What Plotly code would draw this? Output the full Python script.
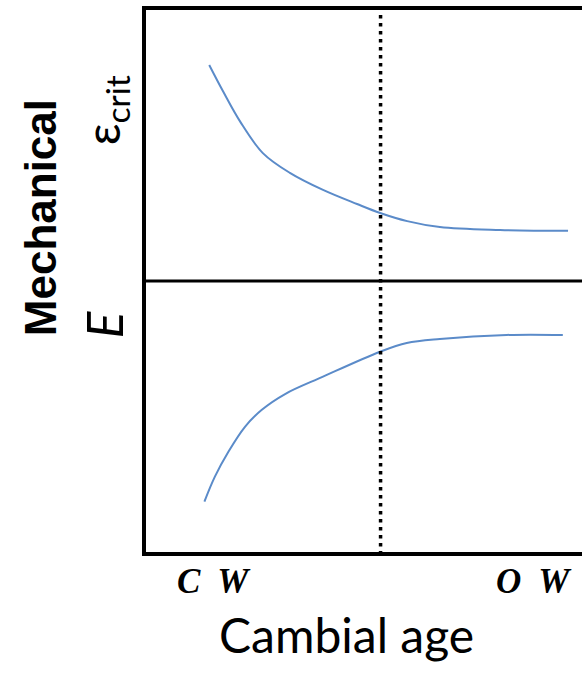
import plotly.graph_objects as go

# Cambial age positions (0 = inner, 100 = outer) and schematic property values
crit_x = [14.5, 17.7, 21.6, 26.8, 33.0, 40.6, 48.4, 53.7, 59.9, 67.4, 81.2, 96.8]
crit_y = [79.7, 69.9, 58.8, 47.2, 39.9, 33.6, 28.4, 25.1, 22.1, 19.9, 18.8, 18.5]

e_x = [13.4, 15.8, 18.9, 22.7, 26.5, 31.9, 40.6, 53.7, 59.8, 67.4, 82.7, 95.6]
e_y = [-81.4, -72.2, -63.0, -53.8, -47.6, -41.7, -35.3, -26.1, -22.9, -21.4, -19.9, -19.9]

transition_x = 53.8
x_labels = ["<b><i>C  W</i></b>", "<b><i>O  W</i></b>"]
x_label_pos = [0.157, 0.89]

line_color = "#5B8BC9"

fig = go.Figure()
fig.add_trace(go.Scatter(x=crit_x, y=crit_y, mode="lines",
                         line=dict(color=line_color, width=2, shape="spline", smoothing=1.0),
                         hoverinfo="skip"))
fig.add_trace(go.Scatter(x=e_x, y=e_y, mode="lines",
                         line=dict(color=line_color, width=2, shape="spline", smoothing=1.0),
                         hoverinfo="skip"))

# middle separator and dotted transition line
fig.add_shape(type="line", xref="paper", yref="y", x0=0, x1=1, y0=0, y1=0,
              line=dict(color="black", width=3))
fig.add_shape(type="line", xref="x", yref="y", x0=transition_x, x1=transition_x, y0=98.2, y1=-100,
              line=dict(color="black", width=3.5, dash="3.5px,4.5px"))

annotations = [
    dict(text="<b>Mechanical</b>", x=-0.243, y=0.616, textangle=-90,
         font=dict(family="Liberation Sans, Arial", size=44, color="black")),
    dict(text="ε<sub>crit</sub>", x=-0.094, y=0.815, textangle=-90,
         font=dict(family="Lato, Open Sans, sans-serif", size=48, color="black")),
    dict(text="<i>E</i>", x=-0.097, y=0.419, textangle=-90,
         font=dict(family="Lato, Open Sans, sans-serif", size=50, color="black")),
    dict(text="Cambial age", x=0.459, y=-0.153,
         font=dict(family="Lato, Open Sans, sans-serif", size=48, color="black")),
]
for lab, pos in zip(x_labels, x_label_pos):
    annotations.append(dict(text=lab, x=pos, y=-0.055,
                            font=dict(family="Liberation Serif, Times New Roman, serif", size=35, color="black")))
for a in annotations:
    a.update(xref="paper", yref="paper", showarrow=False, xanchor="center", yanchor="middle")

fig.update_layout(
    width=582, height=676,
    margin=dict(l=146, r=0, t=10, b=124),
    plot_bgcolor="white", paper_bgcolor="white",
    showlegend=False,
    annotations=annotations,
    xaxis=dict(range=[0, 100], showgrid=False, zeroline=False, showticklabels=False, ticks="",
               showline=True, linecolor="black", linewidth=4, mirror=True),
    yaxis=dict(range=[-100, 100], showgrid=False, zeroline=False, showticklabels=False, ticks="",
               showline=True, linecolor="black", linewidth=4, mirror=False),
)

fig.write_html("out.html", config={"displayModeBar": False},
               post_script="document.body.style.margin='0';")
